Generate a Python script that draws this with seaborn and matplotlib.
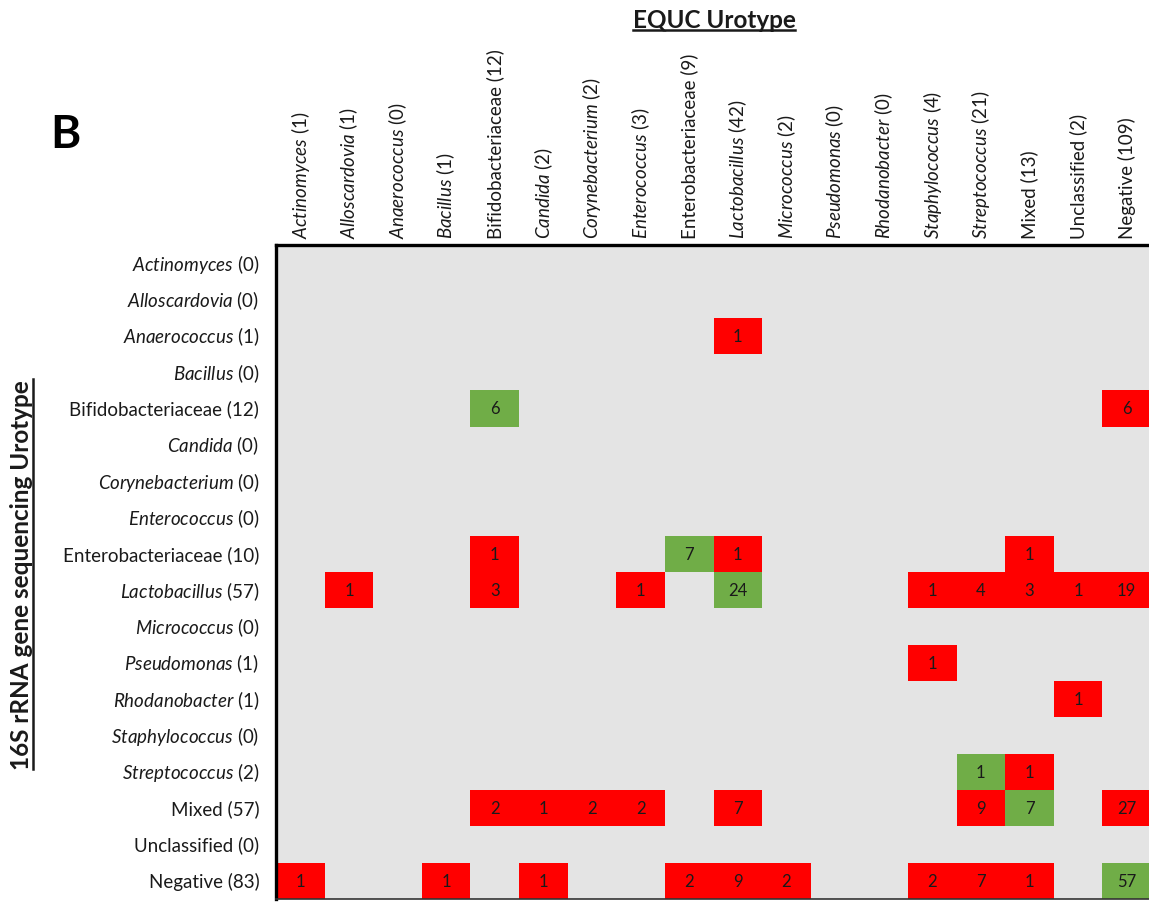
import numpy as np
import pandas as pd
import matplotlib
matplotlib.use("Agg")
import matplotlib.pyplot as plt
from matplotlib.colors import ListedColormap
from matplotlib.lines import Line2D
import seaborn as sns

# Urotype categories (same order on both axes)
urotypes = ["Actinomyces", "Alloscardovia", "Anaerococcus", "Bacillus",
            "Bifidobacteriaceae", "Candida", "Corynebacterium", "Enterococcus",
            "Enterobacteriaceae", "Lactobacillus", "Micrococcus", "Pseudomonas",
            "Rhodanobacter", "Staphylococcus", "Streptococcus", "Mixed",
            "Unclassified", "Negative"]
# genus names are set in italics
italic = [True, True, True, True, False, True, True, True, False, True,
          True, True, True, True, True, False, False, False]

# Non-zero cells: (16S urotype, EQUC urotype, number of samples)
pairs = [
    ("Anaerococcus", "Lactobacillus", 1),
    ("Bifidobacteriaceae", "Bifidobacteriaceae", 6),
    ("Bifidobacteriaceae", "Negative", 6),
    ("Enterobacteriaceae", "Bifidobacteriaceae", 1),
    ("Enterobacteriaceae", "Enterobacteriaceae", 7),
    ("Enterobacteriaceae", "Lactobacillus", 1),
    ("Enterobacteriaceae", "Mixed", 1),
    ("Lactobacillus", "Alloscardovia", 1),
    ("Lactobacillus", "Bifidobacteriaceae", 3),
    ("Lactobacillus", "Enterococcus", 1),
    ("Lactobacillus", "Lactobacillus", 24),
    ("Lactobacillus", "Staphylococcus", 1),
    ("Lactobacillus", "Streptococcus", 4),
    ("Lactobacillus", "Mixed", 3),
    ("Lactobacillus", "Unclassified", 1),
    ("Lactobacillus", "Negative", 19),
    ("Pseudomonas", "Staphylococcus", 1),
    ("Rhodanobacter", "Unclassified", 1),
    ("Streptococcus", "Streptococcus", 1),
    ("Streptococcus", "Mixed", 1),
    ("Mixed", "Bifidobacteriaceae", 2),
    ("Mixed", "Candida", 1),
    ("Mixed", "Corynebacterium", 2),
    ("Mixed", "Enterococcus", 2),
    ("Mixed", "Lactobacillus", 7),
    ("Mixed", "Streptococcus", 9),
    ("Mixed", "Mixed", 7),
    ("Mixed", "Negative", 27),
    ("Negative", "Actinomyces", 1),
    ("Negative", "Bacillus", 1),
    ("Negative", "Candida", 1),
    ("Negative", "Enterobacteriaceae", 2),
    ("Negative", "Lactobacillus", 9),
    ("Negative", "Micrococcus", 2),
    ("Negative", "Staphylococcus", 2),
    ("Negative", "Streptococcus", 7),
    ("Negative", "Mixed", 1),
    ("Negative", "Negative", 57),
]

FONT = "Lato"
plt.rcParams["font.family"] = [FONT, "DejaVu Sans"]
plt.rcParams["mathtext.fontset"] = "custom"
plt.rcParams["mathtext.rm"] = FONT
plt.rcParams["mathtext.it"] = FONT + ":italic"
plt.rcParams["mathtext.bf"] = FONT + ":bold"

n = len(urotypes)
counts = pd.DataFrame(0, index=urotypes, columns=urotypes, dtype=float)
for r, c, v in pairs:
    counts.loc[r, c] = v

row_tot = counts.sum(axis=1).astype(int)
col_tot = counts.sum(axis=0).astype(int)

# colour code: 1 = concordant (diagonal), 0 = discordant, NaN = no samples
code = pd.DataFrame(np.nan, index=urotypes, columns=urotypes)
annot = np.full((n, n), "", dtype=object)
for i, r in enumerate(urotypes):
    for j, c in enumerate(urotypes):
        v = counts.loc[r, c]
        if v > 0:
            code.loc[r, c] = 1.0 if i == j else 0.0
            annot[i, j] = f"{int(v)}"


def label(name, total, it):
    return (rf"$\mathit{{{name}}}$ ({total})" if it else f"{name} ({total})")


ylabels = [label(u, row_tot[u], it) for u, it in zip(urotypes, italic)]
xlabels = [label(u, col_tot[u], it) for u, it in zip(urotypes, italic)]

W, H, DPI = 1149, 903, 100
fig = plt.figure(figsize=(W / DPI, H / DPI), dpi=DPI)
ax = fig.add_axes([276 / W, 1 - 900 / H, 875 / W, 654 / H])
ax.set_facecolor("#E4E4E4")

sns.heatmap(code, ax=ax, cmap=ListedColormap(["#FF0000", "#70AD47"]),
            vmin=-0.5, vmax=1.5, cbar=False, annot=annot, fmt="",
            annot_kws={"fontsize": 12, "color": "#1a1a1a"},
            xticklabels=xlabels, yticklabels=ylabels)

ax.xaxis.tick_top()
ax.set_xticklabels(xlabels, rotation=90, fontsize=13.5, color="#1a1a1a")
ax.set_yticklabels(ylabels, rotation=0, fontsize=13.5, color="#1a1a1a")
ax.tick_params(axis="x", length=0, pad=5)
ax.tick_params(axis="y", length=0, pad=12)
ax.set_xlabel("")
ax.set_ylabel("")

for side in ["left", "top"]:
    ax.spines[side].set_visible(True)
    ax.spines[side].set_linewidth(2.4)
    ax.spines[side].set_color("black")
ax.spines["bottom"].set_visible(True)
ax.spines["bottom"].set_linewidth(1.2)
ax.spines["bottom"].set_color("#333333")
ax.spines["right"].set_visible(False)

# panel letter and axis titles
fig.text(65 / W, 1 - 135 / H, "B", fontsize=33, fontweight="bold",
         ha="center", va="center")
t_top = fig.text(714 / W, 1 - 20 / H, "EQUC Urotype", fontsize=17.5,
                 fontweight="bold", ha="center", va="center", color="#1a1a1a")
t_left = fig.text(22 / W, 1 - 575 / H, "16S rRNA gene sequencing Urotype",
                  fontsize=17.5, fontweight="bold", ha="center", va="center",
                  rotation=90, color="#1a1a1a")

# underline both titles
fig.canvas.draw()
r = fig.canvas.get_renderer()
bb = t_top.get_window_extent(r)
y = bb.y0 + 1
fig.add_artist(Line2D([bb.x0 / W, bb.x1 / W], [y / H, y / H],
                      transform=fig.transFigure, color="#1a1a1a", lw=1.8))
bb = t_left.get_window_extent(r)
x = bb.x1 - 1
fig.add_artist(Line2D([x / W, x / W], [bb.y0 / H, bb.y1 / H],
                      transform=fig.transFigure, color="#1a1a1a", lw=1.8))

fig.savefig("out.png", dpi=DPI)
